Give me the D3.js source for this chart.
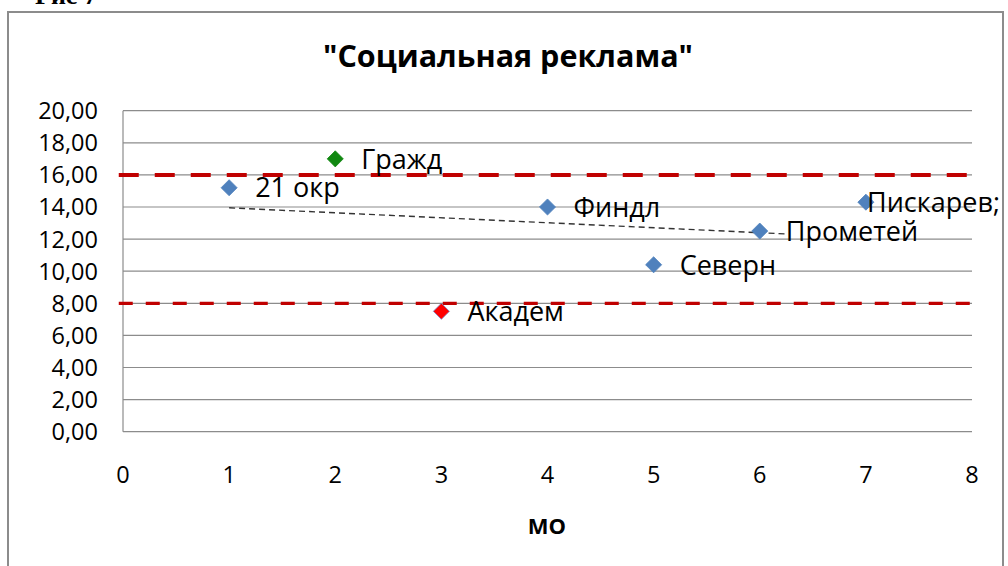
<!DOCTYPE html>
<html>
<head>
<meta charset="utf-8">
<script src="https://cdn.jsdelivr.net/npm/d3@7"></script>
<style>
  html, body { margin: 0; padding: 0; background: #fff; }
  svg { display: block; }
  text { font-family: "Open Sans", "Noto Sans", sans-serif; fill: #000; }
</style>
</head>
<body>
<svg id="chart" width="1008" height="566"></svg>
<script>
// data
const names = ['21 окр', 'Гражд', 'Академ', 'Финдл', 'Северн', 'Прометей', 'Пискарев;'];
const moX = [1, 2, 3, 4, 5, 6, 7];
const values = [15.2, 17.0, 7.5, 14.0, 10.4, 12.5, 14.3];
const pointColors = ['#4F81BD', '#118811', '#FF0000', '#4F81BD', '#4F81BD', '#4F81BD', '#4F81BD'];
const trendX = [1, 6.25];
const trendY = [13.95, 12.32];
const upperLimit = 16;
const lowerLimit = 8;
const limitSpanX = [-0.04, 8.1];
const yTicks = [0, 2, 4, 6, 8, 10, 12, 14, 16, 18, 20];
const xTicks = [0, 1, 2, 3, 4, 5, 6, 7, 8];

const plot = {left: 123, right: 972, top: 110.7, bottom: 431.7};

const svg = d3.select('#chart');

// caption above the frame (cut off in the original)
svg.append('text')
    .attr('x', 35).attr('y', 4)
    .style('font-family', '"Liberation Serif", serif')
    .style('font-size', '26px')
    .style('font-weight', 'bold')
    .text('Рис 7');

// outer frame
svg.append('rect')
    .attr('x', 8).attr('y', 12)
    .attr('width', 995).attr('height', 600)
    .attr('fill', 'none')
    .attr('stroke', '#8c8c8c')
    .attr('stroke-width', 2);

const x = d3.scaleLinear().domain([0, 8]).range([plot.left, plot.right]);
const y = d3.scaleLinear().domain([0, 20]).range([plot.bottom, plot.top]);

// title
svg.append('text')
    .attr('x', 508).attr('y', 67)
    .attr('text-anchor', 'middle')
    .style('font-size', '30.5px')
    .style('font-weight', 'bold')
    .text('"Социальная реклама"');

// gridlines
svg.append('g')
    .selectAll('line')
    .data(yTicks.filter(d => d > 0))
    .join('line')
    .attr('x1', plot.left).attr('x2', plot.right)
    .attr('y1', d => y(d)).attr('y2', d => y(d))
    .attr('stroke', '#8c8c8c')
    .attr('stroke-width', 1.2);

// axis lines
svg.append('line')
    .attr('x1', plot.left).attr('x2', plot.left)
    .attr('y1', plot.top).attr('y2', plot.bottom)
    .attr('stroke', '#8c8c8c').attr('stroke-width', 1.2);
svg.append('line')
    .attr('x1', plot.left).attr('x2', plot.right)
    .attr('y1', plot.bottom).attr('y2', plot.bottom)
    .attr('stroke', '#8c8c8c').attr('stroke-width', 1.2);

// y tick labels
const fmt = d => d.toFixed(2).replace('.', ',');
svg.append('g')
    .selectAll('text')
    .data(yTicks)
    .join('text')
    .attr('x', 98)
    .attr('y', d => y(d))
    .attr('dy', '0.36em')
    .attr('text-anchor', 'end')
    .style('font-size', '23.5px')
    .text(fmt);

// x tick labels
svg.append('g')
    .selectAll('text')
    .data(xTicks)
    .join('text')
    .attr('x', d => x(d))
    .attr('y', 475)
    .attr('dy', '0.36em')
    .attr('text-anchor', 'middle')
    .style('font-size', '23.5px')
    .text(d => d);

// x axis title
svg.append('text')
    .attr('x', 547).attr('y', 526)
    .attr('dy', '0.36em')
    .attr('text-anchor', 'middle')
    .style('font-size', '22px')
    .style('font-weight', 'bold')
    .text('МО');

// limit lines
svg.append('line')
    .attr('x1', x(limitSpanX[0])).attr('x2', x(limitSpanX[1]))
    .attr('y1', y(upperLimit)).attr('y2', y(upperLimit))
    .attr('stroke', '#C00000')
    .attr('stroke-width', 4)
    .attr('stroke-dasharray', '20 16');
svg.append('line')
    .attr('x1', x(limitSpanX[0])).attr('x2', x(limitSpanX[1]))
    .attr('y1', y(lowerLimit)).attr('y2', y(lowerLimit))
    .attr('stroke', '#C00000')
    .attr('stroke-width', 3.2)
    .attr('stroke-dasharray', '14 13');

// trend line
svg.append('line')
    .attr('x1', x(trendX[0])).attr('x2', x(trendX[1]))
    .attr('y1', y(trendY[0])).attr('y2', y(trendY[1]))
    .attr('stroke', '#333')
    .attr('stroke-width', 1.4)
    .attr('stroke-dasharray', '6 4');

// points
const pts = names.map((n, i) => ({name: n, mo: moX[i], v: values[i], color: pointColors[i]}));
const diamond = d3.symbol().type(d3.symbolDiamond2).size(165);

svg.append('g')
    .selectAll('path')
    .data(pts)
    .join('path')
    .attr('transform', d => `translate(${x(d.mo)},${y(d.v)})`)
    .attr('d', diamond)
    .attr('fill', d => d.color)
    .attr('stroke', d => d.color === '#FF0000' ? '#7a86c8' : d.color)
    .attr('stroke-width', 0.8);

// data labels, right of the marker, kept inside the frame
const labels = svg.append('g')
    .selectAll('text')
    .data(pts)
    .join('text')
    .attr('y', d => y(d.v))
    .attr('dy', '0.36em')
    .style('font-size', '27px')
    .text(d => d.name);

labels.each(function(d) {
    const w = this.getComputedTextLength();
    const px = Math.min(x(d.mo) + 26, 1000 - w);
    d3.select(this).attr('x', px);
});
</script>
</body>
</html>
